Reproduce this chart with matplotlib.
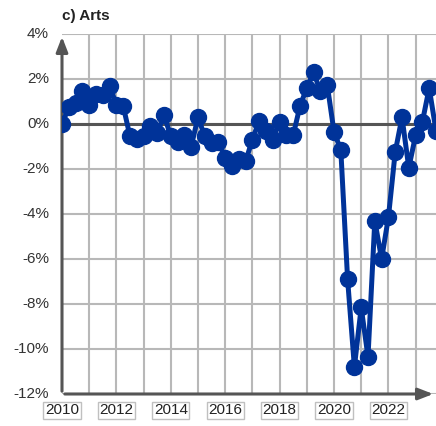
import matplotlib.pyplot as plt
import numpy as np

# quarterly change, 2010 Q1 .. 2023 Q4 (percent)
values = [0.0, 0.75, 0.95, 1.45, 0.85, 1.35, 1.3, 1.7,
          0.85, 0.8, -0.55, -0.65, -0.55, -0.1, -0.4, 0.4,
          -0.55, -0.8, -0.5, -1.0, 0.3, -0.55, -0.85, -0.8,
          -1.5, -1.85, -1.55, -1.65, -0.7, 0.15, -0.3, -0.7,
          0.1, -0.5, -0.5, 0.8, 1.6, 2.3, 1.45, 1.75,
          -0.35, -1.15, -6.9, -10.8, -8.15, -10.35, -4.3, -6.0,
          -4.15, -1.25, 0.3, -1.95, -0.5, 0.1, 1.6, -0.3]
years = 2010 + 0.25 * np.arange(len(values))
year_ticks = [2010, 2012, 2014, 2016, 2018, 2020, 2022]
pct_ticks = [4, 2, 0, -2, -4, -6, -8, -10, -12]

plt.rcParams['font.family'] = ['Liberation Sans', 'DejaVu Sans']

fig = plt.figure(figsize=(4.36, 4.26), dpi=100)
ax = fig.add_axes([62 / 436, 32 / 426, 374 / 436, 360 / 426])
ax.set_xlim(2010, 2023.75)
ax.set_ylim(-12, 4)

# grid
for x in np.arange(2011, 2024):
    ax.axvline(x, color='#b8b8b8', lw=1.5, zorder=1)
for y in pct_ticks:
    ax.axhline(y, color='#b8b8b8', lw=1.5, zorder=1)
ax.axhline(0, color='#555555', lw=2.2, zorder=2)

for s in ax.spines.values():
    s.set_visible(False)

# axes with arrows
ax.annotate('', xy=(0, 1.0), xytext=(0, 0), xycoords='axes fraction',
            arrowprops=dict(arrowstyle='-|>,head_width=0.35,head_length=0.9',
                            color='#555555', lw=2.2), annotation_clip=False)
ax.annotate('', xy=(1.0, 0), xytext=(0, 0), xycoords='axes fraction',
            arrowprops=dict(arrowstyle='-|>,head_width=0.35,head_length=0.9',
                            color='#555555', lw=2.2), annotation_clip=False)

ax.plot(years, values, color='#003399', lw=3.6, marker='o', ms=11.5,
        zorder=5, clip_on=True)

ax.set_xticks([])
ax.set_yticks([])

for p in pct_ticks:
    ax.text(-0.035, p, f'{p}%', transform=ax.get_yaxis_transform(),
            ha='right', va='center', fontsize=11, color='#333333')

for yr in year_ticks:
    ax.text(yr, -0.045, str(yr), transform=ax.get_xaxis_transform(),
            ha='center', va='center', fontsize=11, color='#222222',
            bbox=dict(boxstyle='square,pad=0.1', fc='white', ec='#c0c0c0', lw=1))

fig.text(62 / 436, 1 - 16 / 426, 'c) Arts', fontsize=11, fontweight='bold',
         ha='left', va='center', color='#222222')

plt.savefig('out.png', dpi=100)
